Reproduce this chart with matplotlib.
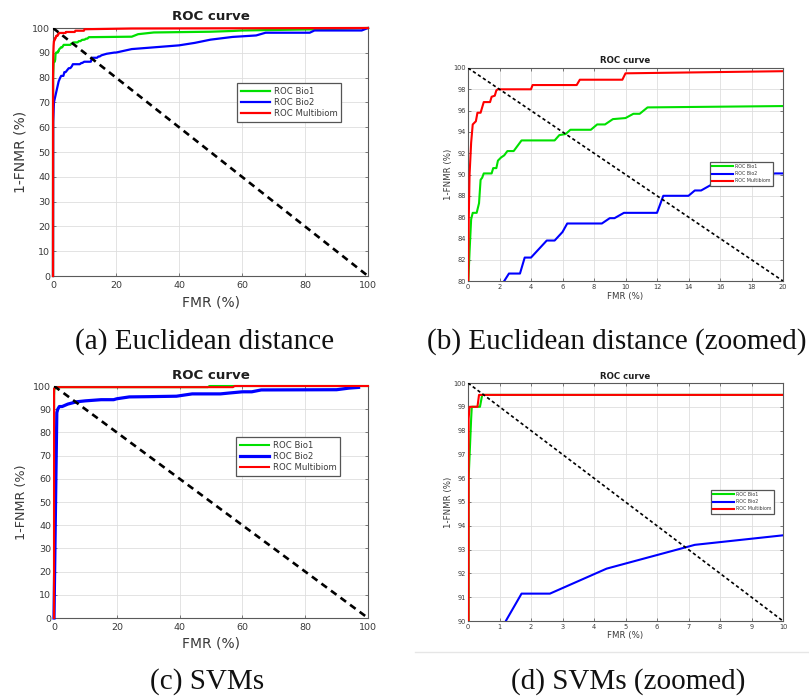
import matplotlib
matplotlib.use("Agg")
import matplotlib.pyplot as plt
from matplotlib.lines import Line2D

W, H = 809, 696

# ROC data, Euclidean-distance matcher (FMR %, 1-FNMR %)
euc_bio1_fmr = [0, 0.02, 0.1, 0.2, 0.3, 0.55, 0.7, 0.8, 0.9, 1.0, 1.5, 1.6, 1.8, 1.9, 2.1, 2.3, 2.5, 2.9,
                3.2, 3.4, 5.5, 5.8, 6.2, 6.5, 7.8, 8.2, 8.7, 9.2, 10.0, 10.5, 10.9, 11.4, 25.0, 27.0, 32.0,
                50.0, 57.0, 60.0, 85.0, 100.0]
euc_bio1_tpr = [0, 80.0, 82.8, 85.8, 86.4, 86.4, 87.3, 89.5, 89.7, 90.1, 90.1, 90.6, 90.6, 91.3, 91.6, 91.8,
                92.2, 92.2, 92.8, 93.2, 93.2, 93.7, 93.8, 94.2, 94.2, 94.7, 94.7, 95.2, 95.3, 95.7, 95.7,
                96.3, 96.5, 97.5, 98.2, 98.5, 98.8, 99.0, 99.5, 100.0]

euc_bio2_fmr = [0, 0.05, 0.3, 1.0, 1.8, 2.3, 2.6, 3.3, 3.6, 4.0, 4.5, 5.0, 5.5, 6.0, 6.3, 8.5, 9.0, 9.3, 9.9,
                12.0, 12.4, 14.0, 14.4, 14.8, 15.4, 17.0, 19.5, 20.0, 25.0, 30.0, 40.0, 45.0, 50.0, 57.0,
                64.5, 67.5, 81.5, 83.0, 85.0, 98.0, 100.0]
euc_bio2_tpr = [0, 62.0, 70.0, 74.0, 78.5, 80.0, 80.7, 80.7, 82.2, 82.2, 83.0, 83.8, 83.8, 84.6, 85.4, 85.4,
                85.9, 85.9, 86.4, 86.4, 88.0, 88.0, 88.5, 88.5, 89.0, 89.6, 90.1, 90.1, 91.5, 92.0, 93.0,
                94.0, 95.3, 96.4, 97.0, 98.1, 98.1, 99.0, 99.0, 99.0, 100.0]

euc_multi_fmr = [0, 0.02, 0.05, 0.1, 0.2, 0.3, 0.5, 0.6, 0.8, 0.9, 1.0, 1.4, 1.5, 1.7, 1.8, 1.9, 4.0, 4.1,
                 6.9, 7.1, 9.8, 10.0, 25.0, 100.0]
euc_multi_tpr = [0, 80.0, 86.0, 90.0, 93.0, 94.7, 95.0, 95.8, 95.8, 96.3, 96.8, 96.8, 97.3, 97.4, 97.9,
                 98.0, 98.0, 98.4, 98.4, 98.9, 98.9, 99.5, 99.8, 100.0]

# ROC data, SVM matcher
svm_bio1_fmr = [0, 0.02, 0.1, 0.12, 0.38, 0.45, 49.0, 49.5, 100.0]
svm_bio1_tpr = [0, 96.0, 98.5, 99.0, 99.0, 99.5, 99.5, 100.0, 100.0]

svm_bio2_fmr = [0, 0.6, 0.9, 1.2, 1.7, 2.6, 4.4, 7.2, 10.0, 15.0, 19.0, 20.0, 24.0, 30.0, 39.0, 44.0,
                53.0, 56.0, 60.0, 63.0, 66.0, 90.0, 94.0, 97.0]
svm_bio2_tpr = [0, 60.0, 88.5, 90.0, 91.15, 91.15, 92.2, 93.2, 93.6, 94.1, 94.1, 94.5, 95.3, 95.4, 95.6,
                96.6, 96.6, 97.0, 97.5, 97.5, 98.3, 98.4, 99.1, 99.4]

svm_multi_fmr = [0, 0.02, 0.05, 0.3, 0.35, 57.0, 57.5, 100.0]
svm_multi_tpr = [0, 98.5, 99.0, 99.0, 99.5, 99.5, 100.0, 100.0]

series_labels = ["ROC Bio1", "ROC Bio2", "ROC Multibiom"]
series_colors = ["#00e000", "#0000ff", "#ff0000"]
captions = ["(a) Euclidean distance", "(b) Euclidean distance (zoomed)", "(c) SVMs", "(d) SVMs (zoomed)"]

TXT = "#3a3a3a"


def px_rect(l, t, r, b):
    return [l / W, 1 - b / H, (r - l) / W, (b - t) / H]


fig = plt.figure(figsize=(W / 100, H / 100), dpi=100, facecolor="white")


def draw_panel(rect, data, xlim, ylim, xticks, yticks, s):
    ax = fig.add_axes(rect)
    full = xlim[1] == 100
    for (fx, ty), c, lab, lw in zip(data, series_colors, series_labels, s["lw"]):
        ax.plot(fx, ty, color=c, lw=lw, label=lab, clip_on=not full, solid_joinstyle="round", zorder=3)
    ax.plot([0, 100], [100, 0], color="black", lw=s["dlw"], dashes=s["dash"], clip_on=True, zorder=4)
    ax.set_xlim(xlim)
    ax.set_ylim(ylim)
    ax.set_xticks(xticks)
    ax.set_yticks(yticks)
    ax.grid(True, color="#dedede", lw=0.6)
    ax.set_axisbelow(True)
    ax.tick_params(direction="in", length=2.2, width=0.6, colors="#666666",
                   labelcolor=TXT, labelsize=s["tick"], top=True, right=True)
    ax.tick_params(axis="x", pad=s["xpad"])
    ax.tick_params(axis="y", pad=s["ypad"])
    for sp in ax.spines.values():
        sp.set_color("#5a5a5a")
        sp.set_linewidth(0.8)
    ax.set_xlabel("FMR (%)", fontsize=s["xl"], color=TXT, va="center")
    ax.xaxis.set_label_coords(0.5, s["xly"])
    ax.set_ylabel("1-FNMR (%)", fontsize=s["yl"], color=TXT, va="center")
    ax.yaxis.set_label_coords(s["ylx"], 0.5)
    ax.set_title("ROC curve", fontsize=s["title"], fontweight="bold", color="#1e1e1e",
                 y=s["ty"], va="center", pad=0)
    lx, ly = s["leg"]
    leg = ax.legend(loc="upper left", bbox_to_anchor=(lx / W, 1 - ly / H),
                    bbox_transform=fig.transFigure, borderaxespad=0, fontsize=s["lfs"],
                    handlelength=s["hl"], handletextpad=0.5, borderpad=0.45,
                    labelspacing=s["ls"], fancybox=False, framealpha=1, edgecolor="#555555")
    leg.get_frame().set_linewidth(0.9)
    leg.set_zorder(6)
    for t in leg.get_texts():
        t.set_color(TXT)
    return ax


euc = [(euc_bio1_fmr, euc_bio1_tpr), (euc_bio2_fmr, euc_bio2_tpr), (euc_multi_fmr, euc_multi_tpr)]
svm = [(svm_bio1_fmr, svm_bio1_tpr), (svm_bio2_fmr, svm_bio2_tpr), (svm_multi_fmr, svm_multi_tpr)]

big = dict(tick=6.8, xl=10, yl=10, title=9.6, xpad=3.5, ypad=2.0, dlw=1.9, dash=(2.6, 1.9),
           lfs=6.1, hl=3.4, ls=0.25)
small = dict(tick=4.8, xl=6.2, yl=6.2, title=6.2, xpad=2.0, ypad=1.2, dlw=1.2, dash=(2.0, 1.6),
             lfs=3.4, hl=4.4, ls=0.45)

# (a) full range, Euclidean
draw_panel(px_rect(53, 28, 368, 276), euc, (0, 100), (0, 100), range(0, 101, 20), range(0, 101, 10),
           dict(big, lw=(1.6, 1.6, 1.6), xly=-0.105, ylx=-0.102, ty=1.048, leg=(237, 83)))
# (b) zoomed, Euclidean
draw_panel(px_rect(468, 68, 783, 281), euc, (0, 20), (80, 100), range(0, 21, 2), range(80, 101, 2),
           dict(small, lw=(1.5, 1.5, 1.5), xly=-0.075, ylx=-0.0625, ty=1.033, leg=(710, 162)))
# (c) full range, SVM
draw_panel(px_rect(54, 386, 368, 618), svm, (0, 100), (0, 100), range(0, 101, 20), range(0, 101, 10),
           dict(big, yl=9.2, lw=(1.5, 2.3, 1.5), xly=-0.112, ylx=-0.105, ty=1.047, leg=(236, 437)))
# (d) zoomed, SVM
draw_panel(px_rect(468, 383, 783, 621), svm, (0, 10), (90, 100), range(0, 11, 1), range(90, 101, 1),
           dict(small, lw=(1.5, 1.5, 1.5), xly=-0.06, ylx=-0.062, ty=1.028, leg=(711, 490)))

# sub-figure captions
cap = dict(family="Liberation Serif", fontsize=21, color="#111111", va="baseline")
fig.text(205 / W, 1 - 349 / H, captions[0], ha="center", **cap)
fig.text(427 / W, 1 - 349 / H, captions[1], ha="left", **cap)
fig.text(207 / W, 1 - 689 / H, captions[2], ha="center", **cap)
fig.text(628 / W, 1 - 689 / H, captions[3], ha="center", **cap)

fig.add_artist(Line2D([415 / W, 1.0], [1 - 652 / H] * 2, transform=fig.transFigure,
                      color="#e6e6e6", lw=1.0))

fig.savefig("out.png", dpi=100, facecolor="white")
